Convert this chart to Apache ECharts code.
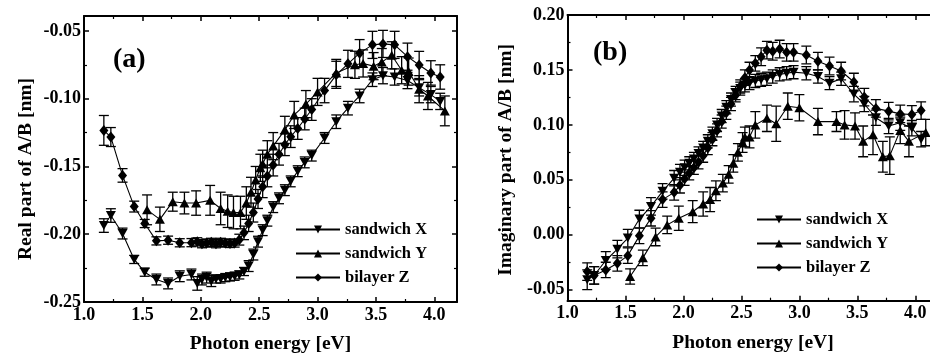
<!DOCTYPE html>
<html>
<head>
<meta charset="utf-8">
<script src="https://cdn.jsdelivr.net/npm/echarts@6/dist/echarts.min.js"></script>
<style>
  html, body { margin: 0; padding: 0; background: #fff; }
  #chart { width: 930px; height: 355px; }
</style>
</head>
<body>
<div id="chart"></div>
<script>
// photon energies [eV]
const energyXZ = [1.17, 1.23, 1.33, 1.43, 1.52, 1.62, 1.72, 1.82, 1.92, 1.97,
  2.01, 2.05, 2.09, 2.13, 2.17, 2.21, 2.25, 2.29, 2.33, 2.37,
  2.41, 2.45, 2.49, 2.53, 2.57, 2.62, 2.67, 2.72, 2.77, 2.83,
  2.89, 2.95, 3.06, 3.16, 3.26, 3.36, 3.47, 3.56, 3.66, 3.77,
  3.87, 3.97, 4.05];
const energyY = [1.54, 1.65, 1.76, 1.86, 1.96, 2.08, 2.17, 2.23, 2.28, 2.34,
  2.39, 2.43, 2.47, 2.51, 2.53, 2.57, 2.62, 2.72, 2.80, 2.90,
  3.00, 3.16, 3.32, 3.39, 3.48, 3.55, 3.635, 3.72, 3.78, 3.87,
  3.945, 4.09];

// (a) real part of A/B [nm]
const realX = [-0.1936, -0.1862, -0.1995, -0.2186, -0.228, -0.2334, -0.2363, -0.231, -0.2297, -0.2363,
  -0.2334, -0.232, -0.2346, -0.233, -0.233, -0.232, -0.2315, -0.231, -0.230, -0.2275,
  -0.2235, -0.215, -0.2055, -0.197, -0.190, -0.180, -0.1735, -0.1675, -0.161, -0.1535,
  -0.147, -0.142, -0.129, -0.117, -0.107, -0.098, -0.086, -0.083, -0.084, -0.0866,
  -0.092, -0.097, -0.102];
const errRealX = [0.005, 0.005, 0.004, 0.003, 0.003, 0.004, 0.004, 0.004, 0.004, 0.005,
  0.004, 0.004, 0.004, 0.003, 0.003, 0.003, 0.003, 0.003, 0.003, 0.003,
  0.004, 0.004, 0.004, 0.004, 0.004, 0.004, 0.004, 0.004, 0.004, 0.004,
  0.004, 0.004, 0.004, 0.005, 0.005, 0.005, 0.005, 0.006, 0.006, 0.006,
  0.006, 0.006, 0.006];
const realZ = [-0.1234, -0.1283, -0.1566, -0.1796, -0.1921, -0.2049, -0.2044, -0.2063, -0.2062, -0.2056,
  -0.207, -0.2065, -0.206, -0.207, -0.206, -0.2065, -0.2068, -0.2065, -0.204, -0.199,
  -0.192, -0.184, -0.174, -0.165, -0.157, -0.149, -0.141, -0.134, -0.128, -0.122,
  -0.115, -0.108, -0.094, -0.0824, -0.0743, -0.0664, -0.0603, -0.0596, -0.0603, -0.069,
  -0.0751, -0.081, -0.084];
const errRealZ = [0.011, 0.007, 0.005, 0.004, 0.003, 0.003, 0.003, 0.003, 0.003, 0.003,
  0.003, 0.003, 0.003, 0.003, 0.003, 0.003, 0.003, 0.003, 0.004, 0.005,
  0.006, 0.007, 0.007, 0.008, 0.008, 0.008, 0.008, 0.008, 0.008, 0.008,
  0.008, 0.008, 0.009, 0.010, 0.010, 0.010, 0.010, 0.010, 0.010, 0.010,
  0.010, 0.009, 0.009];
const realY = [-0.182, -0.189, -0.176, -0.177, -0.177, -0.175, -0.181, -0.183, -0.184, -0.184,
  -0.177, -0.169, -0.160, -0.151, -0.148, -0.141, -0.135, -0.123, -0.112, -0.104,
  -0.095, -0.081, -0.075, -0.074, -0.076, -0.073, -0.068, -0.079, -0.080, -0.093,
  -0.098, -0.109];
const errRealY = [0.011, 0.009, 0.007, 0.008, 0.009, 0.011, 0.012, 0.012, 0.012, 0.012,
  0.012, 0.011, 0.010, 0.010, 0.010, 0.010, 0.010, 0.010, 0.010, 0.010,
  0.010, 0.010, 0.010, 0.010, 0.010, 0.010, 0.010, 0.010, 0.010, 0.010,
  0.010, 0.011];

// (b) imaginary part of A/B [nm]
const imagX = [-0.041, -0.037, -0.0234, -0.0131, -0.003, 0.0143, 0.0258, 0.0395, 0.0515, 0.057,
  0.061, 0.065, 0.069, 0.074, 0.079, 0.085, 0.092, 0.100, 0.108, 0.116,
  0.123, 0.129, 0.133, 0.136, 0.138, 0.140, 0.141, 0.142, 0.144, 0.146,
  0.147, 0.148, 0.147, 0.144, 0.138, 0.142, 0.128, 0.119, 0.1065, 0.099,
  0.102, 0.097, 0.087];
const errImagX = [0.009, 0.008, 0.008, 0.008, 0.008, 0.008, 0.008, 0.007, 0.007, 0.007,
  0.007, 0.006, 0.006, 0.006, 0.006, 0.006, 0.006, 0.006, 0.006, 0.006,
  0.006, 0.006, 0.006, 0.006, 0.006, 0.006, 0.006, 0.006, 0.006, 0.006,
  0.006, 0.006, 0.006, 0.006, 0.006, 0.006, 0.007, 0.007, 0.007, 0.007,
  0.007, 0.007, 0.007];
const imagZ = [-0.0335, -0.037, -0.032, -0.026, -0.019, -0.001, 0.015, 0.032, 0.0386, 0.045,
  0.051, 0.056, 0.061, 0.066, 0.072, 0.079, 0.087, 0.095, 0.103, 0.111,
  0.119, 0.127, 0.135, 0.143, 0.150, 0.156, 0.162, 0.168, 0.167, 0.169,
  0.166, 0.166, 0.1636, 0.158, 0.1536, 0.149, 0.139, 0.1253, 0.115, 0.1125,
  0.110, 0.1095, 0.113];
const errImagZ = [0.008, 0.008, 0.007, 0.007, 0.007, 0.007, 0.007, 0.007, 0.007, 0.007,
  0.006, 0.006, 0.006, 0.006, 0.006, 0.006, 0.006, 0.006, 0.006, 0.006,
  0.006, 0.006, 0.006, 0.007, 0.007, 0.007, 0.008, 0.008, 0.008, 0.008,
  0.008, 0.008, 0.008, 0.008, 0.008, 0.008, 0.008, 0.008, 0.008, 0.008,
  0.008, 0.008, 0.008];
const imagY = [-0.038, -0.021, -0.002, 0.009, 0.015, 0.021, 0.028, 0.032, 0.040, 0.047,
  0.055, 0.065, 0.075, 0.084, 0.089, 0.089, 0.100, 0.106, 0.101, 0.117,
  0.1156, 0.103, 0.103, 0.100, 0.099, 0.085, 0.091, 0.071, 0.072, 0.095,
  0.085, 0.093];
const errImagY = [0.007, 0.007, 0.008, 0.008, 0.011, 0.010, 0.011, 0.011, 0.009, 0.008,
  0.008, 0.008, 0.008, 0.009, 0.009, 0.010, 0.012, 0.012, 0.016, 0.012,
  0.012, 0.012, 0.009, 0.013, 0.012, 0.014, 0.018, 0.014, 0.017, 0.012,
  0.014, 0.012];

const seriesNames = ["sandwich X", "sandwich Y", "bilayer Z"];
const xTicks = [1.0, 1.5, 2.0, 2.5, 3.0, 3.5, 4.0];

const FONT = "Liberation Serif";
const INK = "#000";

const chart = echarts.init(document.getElementById("chart"), null, { renderer: "canvas" });

// 横轴
function xAxisOf(gridIndex, max, position) {
  const bottom = position === "bottom";
  return {
    type: "value",
    gridIndex,
    position,
    min: 1,
    max,
    interval: 0.5,
    name: bottom ? "Photon energy [eV]" : "",
    nameLocation: "middle",
    nameGap: 32,
    nameTextStyle: { color: INK, fontFamily: FONT, fontWeight: "bold", fontSize: 19.5 },
    axisLine: { show: true, onZero: false, lineStyle: { color: INK, width: 2 } },
    axisTick: { show: true, inside: true, length: 5, lineStyle: { color: INK, width: 1.5 } },
    minorTick: { show: true, splitNumber: 2, length: 3, lineStyle: { color: INK, width: 1.2 } },
    splitLine: { show: false },
    axisLabel: {
      show: bottom,
      margin: 4,
      showMaxLabel: false,
      color: INK,
      fontFamily: FONT,
      fontWeight: "bold",
      fontSize: 18,
      formatter: (v) => (xTicks.some((t) => Math.abs(t - v) < 1e-6) ? v.toFixed(1) : ""),
    },
  };
}

// 纵轴
function yAxisOf(gridIndex, min, max, position, title, gap, shift) {
  const left = position === "left";
  return {
    type: "value",
    gridIndex,
    position,
    min,
    max,
    minInterval: 0.05,
    maxInterval: 0.05,
    name: left ? title : "",
    nameLocation: "middle",
    nameGap: gap,
    nameTextStyle: {
      color: INK, fontFamily: FONT, fontWeight: "bold", fontSize: 19.5,
      padding: [0, shift || 0, 0, 0],
    },
    axisLine: { show: true, onZero: false, lineStyle: { color: INK, width: 2 } },
    axisTick: { show: true, inside: true, length: 5, lineStyle: { color: INK, width: 1.5 } },
    minorTick: { show: true, splitNumber: 2, length: 3, lineStyle: { color: INK, width: 1.2 } },
    splitLine: { show: false },
    axisLabel: {
      show: left,
      margin: 3,
      showMinLabel: min === -0.25,
      showMaxLabel: max === 0.2,
      color: INK,
      fontFamily: FONT,
      fontWeight: "bold",
      fontSize: 18,
      formatter: (v) => v.toFixed(2),
    },
  };
}

function lineSeries(name, axisIndex, xs, ys, symbol, rotate) {
  return {
    name,
    type: "line",
    xAxisIndex: axisIndex,
    yAxisIndex: axisIndex,
    data: xs.map((x, i) => [x, ys[i]]),
    symbol,
    symbolRotate: rotate,
    symbolSize: symbol === "diamond" ? [9, 11] : [10, 9],
    showSymbol: true,
    showAllSymbol: true,
    itemStyle: { color: INK },
    lineStyle: { color: INK, width: 1.1 },
    z: 3,
  };
}

function errorSeries(axisIndex, xs, ys, es) {
  return {
    name: "err",
    type: "custom",
    xAxisIndex: axisIndex,
    yAxisIndex: axisIndex,
    data: xs.map((x, i) => [x, ys[i] - es[i], ys[i] + es[i]]),
    encode: { x: 0, y: [1, 2] },
    clip: true,
    z: 2,
    renderItem: (params, api) => {
      const lo = api.coord([api.value(0), api.value(1)]);
      const hi = api.coord([api.value(0), api.value(2)]);
      const w = 5;
      const style = { stroke: INK, lineWidth: 1.3 };
      return {
        type: "group",
        children: [
          { type: "line", shape: { x1: lo[0], y1: lo[1], x2: hi[0], y2: hi[1] }, style },
          { type: "line", shape: { x1: hi[0] - w, y1: hi[1], x2: hi[0] + w, y2: hi[1] }, style },
          { type: "line", shape: { x1: lo[0] - w, y1: lo[1], x2: lo[0] + w, y2: lo[1] }, style },
        ],
      };
    },
  };
}

function legendOf(left, top) {
  return {
    data: seriesNames,
    orient: "vertical",
    left,
    top,
    itemWidth: 44,
    itemHeight: 10,
    itemGap: 7,
    selectedMode: false,
    textStyle: { color: INK, fontFamily: FONT, fontWeight: "bold", fontSize: 16.5 },
  };
}

const option = {
  animation: false,
  backgroundColor: "#fff",
  grid: [
    { left: 84, top: 16, width: 373, height: 286, outerBoundsMode: "none", containLabel: false },
    { left: 567.5, top: 15, width: 371, height: 285.7, outerBoundsMode: "none", containLabel: false },
  ],
  xAxis: [
    xAxisOf(0, 4.194, "bottom"),
    xAxisOf(0, 4.194, "top"),
    xAxisOf(1, 4.2, "bottom"),
    xAxisOf(1, 4.2, "top"),
  ],
  yAxis: [
    yAxisOf(0, -0.25, -0.039, "left", "Real part of A/B [nm]", 48, 20),
    yAxisOf(0, -0.25, -0.039, "right", "", 0, 0),
    yAxisOf(1, -0.06, 0.2, "left", "Imaginary part of A/B [nm]", 52, 4),
    yAxisOf(1, -0.06, 0.2, "right", "", 0, 0),
  ],
  legend: [legendOf(290, 216), legendOf(751, 206)],
  graphic: [
    { type: "text", left: 113, top: 46, style: { text: "(a)", fill: INK, font: `bold 28px "${FONT}"` } },
    { type: "text", left: 593, top: 39, style: { text: "(b)", fill: INK, font: `bold 28px "${FONT}"` } },
  ],
  series: [
    errorSeries(0, energyXZ, realX, errRealX),
    errorSeries(0, energyY, realY, errRealY),
    errorSeries(0, energyXZ, realZ, errRealZ),
    lineSeries(seriesNames[0], 0, energyXZ, realX, "triangle", 180),
    lineSeries(seriesNames[1], 0, energyY, realY, "triangle", 0),
    lineSeries(seriesNames[2], 0, energyXZ, realZ, "diamond", 0),
    errorSeries(2, energyXZ, imagX, errImagX),
    errorSeries(2, energyY, imagY, errImagY),
    errorSeries(2, energyXZ, imagZ, errImagZ),
    lineSeries(seriesNames[0], 2, energyXZ, imagX, "triangle", 180),
    lineSeries(seriesNames[1], 2, energyY, imagY, "triangle", 0),
    lineSeries(seriesNames[2], 2, energyXZ, imagZ, "diamond", 0),
  ],
};

chart.setOption(option);
</script>
</body>
</html>
